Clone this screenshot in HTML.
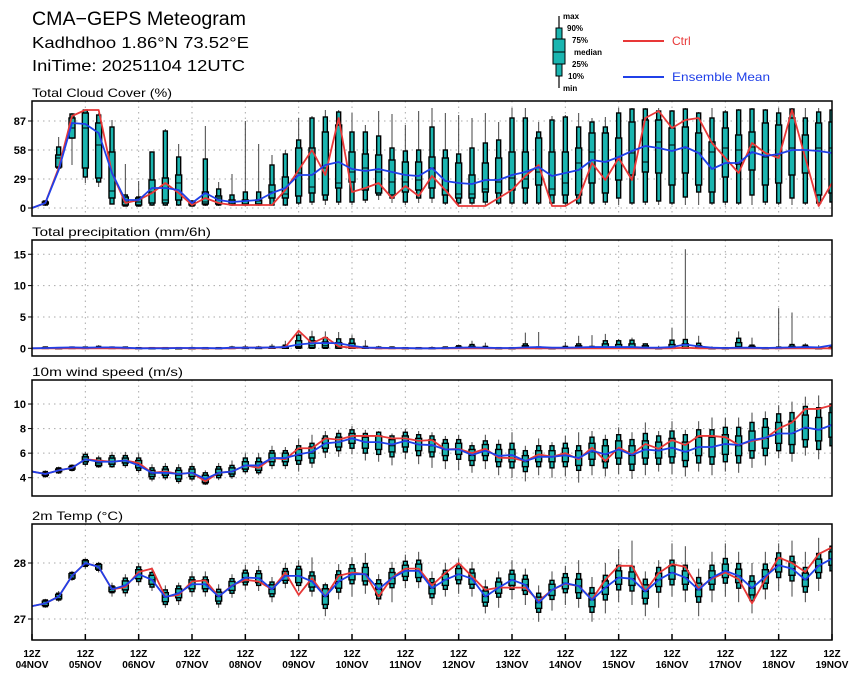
<!DOCTYPE html>
<html><head><meta charset="utf-8"><style>
html,body{margin:0;padding:0;background:#fff;}
svg{display:block;font-family:"Liberation Sans",sans-serif;}
</style></head><body>
<svg id="chart" width="860" height="678" viewBox="0 0 860 678" xmlns="http://www.w3.org/2000/svg">
<text x="32" y="25" font-size="19" textLength="214" lengthAdjust="spacingAndGlyphs">CMA−GEPS Meteogram</text>
<text x="32" y="48" font-size="16" textLength="217" lengthAdjust="spacingAndGlyphs">Kadhdhoo 1.86°N 73.52°E</text>
<text x="32" y="71" font-size="16" textLength="213" lengthAdjust="spacingAndGlyphs">IniTime: 20251104 12UTC</text>
<g>
 <line x1="559" y1="16" x2="559" y2="88" stroke="#000" stroke-width="1.2"/>
 <rect x="556" y="28" width="6" height="48" fill="#1ab5b0" stroke="#000" stroke-width="1"/>
 <rect x="553" y="39" width="12" height="25" fill="#1ab5b0" stroke="#000" stroke-width="1"/>
 <line x1="553" y1="52" x2="565" y2="52" stroke="#000" stroke-width="1"/>
 <g font-size="8" font-weight="bold">
 <text x="563" y="19">max</text><text x="567" y="31">90%</text><text x="572" y="43">75%</text>
 <text x="574" y="55">median</text><text x="572" y="67">25%</text><text x="568" y="79">10%</text><text x="563" y="91">min</text>
 </g>
 <line x1="623" y1="41" x2="664" y2="41" stroke="#e83838" stroke-width="2"/>
 <text x="672" y="45" font-size="12" fill="#e83838">Ctrl</text>
 <line x1="623" y1="77" x2="664" y2="77" stroke="#2040e8" stroke-width="2"/>
 <text x="672" y="81" font-size="12" fill="#2040e8" textLength="98" lengthAdjust="spacingAndGlyphs">Ensemble Mean</text>
</g>
</svg>
<script>
// ---- Cloud cover (%) ----
const cloudMin=[0,2,38,43,25,21,4,2,2,2,2,2,2,2,2,2,2,2,2,2, 3,3,3,3,3,5,8,5,3,5, 5,3,3,3,3,3,3,3,3,3, 3,3,3,3,3,3,3,3,3,3, 3,3,3,3,3,3,3,3,3,3,3];
const cloudP10=[0,3,40,70,31,26,4,2,2,3,3,3,2,3,3,3,3,3,3,3, 5,6,8,6,6,8,13,10,6,10, 10,5,5,5,6,5,5,5,5,5, 5,5,5,6,10,5,6,7,5,11, 16,5,6,5,13,6,5,10,5,5,6];
const cloudP25=[0,4,41,70,40,30,10,3,3,5,5,8,3,4,4,4,4,4,10,10, 12,15,13,20,26,18,15,13,16,18, 20,13,10,10,16,15,18,20,23,13, 13,13,25,15,28,33,36,35,23,35, 23,16,31,44,38,23,25,33,35,13,15];
const cloudMed=[0,5,50,80,80,63,17,6,6,16,8,25,5,6,10,6,7,7,16,14, 35,21,40,25,36,40,36,26,26,28, 40,18,14,14,19,26,30,29,36,19, 25,45,56,46,48,55,46,66,63,60, 55,56,60,58,61,51,53,60,58,60,60];
const cloudP75=[0,6,53,90,95,85,56,11,10,28,30,33,6,16,12,8,8,8,23,31, 60,60,76,83,56,54,53,48,46,46, 51,50,45,33,45,50,56,56,70,56, 56,60,75,75,70,86,88,88,80,81, 75,66,80,73,76,85,83,90,73,85,86];
const cloudP90=[0,7,61,94,98,93,81,13,11,56,77,51,7,49,19,13,16,16,43,54, 68,90,91,96,76,76,72,60,57,58, 81,58,54,60,65,68,90,90,76,88, 91,81,86,81,95,99,99,97,97,99, 95,90,96,98,99,98,95,99,90,96,98];
const cloudMax=[0,8,71,95,98,95,88,44,27,56,79,64,8,82,26,34,87,64,53,58, 90,92,98,98,95,83,97,94,83,97, 100,95,93,90,95,86,100,100,86,92, 93,95,90,91,100,100,100,100,98,100, 96,100,98,99,100,99,100,100,100,100,100];
const cloudMean=[0,5,38,85,84,75,35,8,8,20,20,18,5,15,8,6,7,8,15,20, 33,33,43,46,39,37,39,36,33,32, 40,27,25,24,28,28,33,36,41,32, 35,38,48,46,51,57,62,60,57,61, 55,39,45,45,56,52,54,58,58,57,55];
const cloudCtrl=[0,5,40,92,98,98,35,5,8,15,25,15,3,10,5,3,3,3,3,18, 38,58,33,90,16,20,25,10,22,12, 32,18,2,2,2,10,18,32,43,2, 2,10,45,28,50,28,90,97,80,88, 90,65,50,35,65,55,50,98,50,2,25];
const cloudTicks=[0,29,58,87];
// ---- Precipitation (mm/6h) ----
const prMin=[0,0,0,0,0,0,0,0,0,0,0,0,0,0,0,0,0,0,0,0, 0,0,0,0,0,0,0,0,0,0, 0,0,0,0,0,0,0,0,0,0, 0,0,0,0,0,0,0,0,0,0, 0,0,0,0,0,0,0,0,0,0,0];
const prP10=[0,0,0,0,0,0,0,0,0,0,0,0,0,0,0,0,0,0,0,0, 0,0,0,0,0,0,0,0,0,0, 0,0,0,0,0,0,0,0,0,0, 0,0,0,0,0,0,0,0,0,0, 0,0,0,0,0,0,0,0,0,0,0];
const prP25=[0,0,0,0,0,0,0,0,0,0,0,0,0,0,0,0,0,0,0,0, 0.1,0.1,0.1,0.05,0,0,0,0,0,0, 0,0,0,0,0,0,0,0,0,0, 0,0,0,0,0,0,0,0,0,0, 0,0,0,0,0,0,0,0,0,0,0];
const prMed=[0,0.02,0.02,0.02,0.02,0.02,0.02,0.02,0.02,0.02,0.02,0.02,0.02,0.02,0.02,0.02,0.02,0.02,0.05,0.1, 0.3,0.4,0.4,0.3,0.2,0.05,0.02,0.02,0.02,0.02, 0.02,0.02,0.05,0.1,0.05,0.02,0.02,0.1,0.05,0.02, 0.05,0.1,0.05,0.2,0.2,0.2,0.1,0.02,0.2,0.2, 0.1,0.02,0.02,0.3,0.1,0.02,0.05,0.1,0.1,0.02,0.05];
const prP75=[0,0.1,0.05,0.1,0.1,0.15,0.1,0.1,0.05,0.05,0.05,0.05,0.05,0.05,0.05,0.1,0.1,0.1,0.15,0.3, 1.2,1.2,1.0,0.9,0.8,0.15,0.1,0.1,0.05,0.05, 0.05,0.1,0.2,0.3,0.15,0.05,0.05,0.4,0.1,0.05, 0.15,0.4,0.15,0.7,0.6,0.7,0.4,0.05,0.6,0.7, 0.4,0.05,0.05,0.9,0.3,0.05,0.1,0.3,0.3,0.05,0.1];
const prP90=[0,0.2,0.1,0.2,0.2,0.3,0.2,0.2,0.1,0.1,0.1,0.1,0.1,0.1,0.1,0.2,0.2,0.2,0.3,0.5, 2.1,1.8,1.7,1.5,1.5,0.3,0.2,0.2,0.1,0.1, 0.1,0.2,0.4,0.6,0.3,0.1,0.1,0.7,0.2,0.1, 0.3,0.7,0.3,1.2,1.2,1.3,0.7,0.1,1.3,1.4, 0.8,0.1,0.1,1.6,0.5,0.1,0.2,0.6,0.5,0.1,0.2];
const prMax=[0,0.3,0.2,0.3,0.3,0.5,0.3,0.3,0.2,0.2,0.2,0.2,0.3,0.2,0.2,0.4,0.5,0.4,0.7,1.2, 2.5,2.8,2.7,2.6,2.1,1.3,0.4,0.3,0.2,0.2, 0.3,0.3,0.6,1.2,0.9,0.2,0.1,2.5,2.6,0.2, 1.0,2.0,2.1,2.3,1.5,1.7,0.8,0.4,3.3,15.8, 2.0,0.3,0.2,2.7,1.7,0.2,6.4,5.7,0.8,0.5,0.3];
const prMean=[0,0.05,0.1,0.15,0.1,0.15,0.15,0.1,0,0,0,0.05,0.05,0.05,0,0.1,0.1,0.1,0.15,0.2, 0.6,0.8,0.85,0.8,0.4,0.1,0.1,0.05,0.05,0, 0,0.05,0.1,0.15,0.1,0.05,0.05,0.15,0.2,0.1, 0.1,0.15,0.2,0.2,0.2,0.2,0.1,0.1,0.2,0.6, 0.3,0.1,0.05,0.1,0.1,0.05,0.1,0.15,0.2,0.15,0.5];
const prCtrl=[0,0,0,0,0,0,0,0,0,0.05,0.05,0.05,0,0,0,0,0.1,0.1,0.1,0.2, 2.8,0.8,1.8,0.3,0.1,0.1,0,0,0,0, 0,0,0,0,0,0,0,0,0,0, 0,0,0,0,0,0,0,0,0,0.1, 0,0,0,0,0,0,0,0,0,0,0];
const prTicks=[0,5,10,15];
// ---- Wind speed (m/s) ----
const wMin=[4.5,4.0,4.3,4.5,4.9,4.8,4.8,4.8,4.4,3.7,3.8,3.5,3.7,3.4,3.8,3.9,4.3,4.2,4.7,4.7,4.5,4.8,5.6,5.7,5.9,5.4,5.3,5.0,5.5,5.1,4.8,4.7,4.6,4.4,4.7,4.2,4.0,3.7,4.2,4.0,4.1,3.6,4.2,4.1,4.3,3.9,4.2,4.5,4.3,4.1,4.5,4.2,4.5,4.4,4.8,5.0,5.6,5.3,5.8,5.5,5.6];
const wP10=[4.5,4.1,4.4,4.6,5.1,4.9,4.9,5.0,4.6,3.9,4.0,3.7,3.9,3.5,4.0,4.1,4.5,4.4,5.0,5.0,5.1,5.2,6.1,6.2,6.4,6.0,5.9,5.7,6.1,5.8,5.7,5.4,5.5,5.0,5.4,4.9,4.8,4.5,4.9,4.8,4.9,4.6,5.0,4.8,5.1,4.6,5.1,5.1,5.2,4.9,5.2,5.1,5.3,5.2,5.6,5.8,6.2,6.0,6.5,6.3,6.6];
const wP25=[4.5,4.2,4.5,4.7,5.3,5.0,5.1,5.2,4.8,4.1,4.2,3.9,4.1,3.6,4.2,4.3,4.7,4.6,5.3,5.3,5.4,5.6,6.4,6.5,6.8,6.4,6.3,6.1,6.5,6.2,6.1,5.8,5.9,5.4,5.8,5.3,5.3,4.9,5.3,5.3,5.3,5.0,5.5,5.3,5.6,5.1,5.6,5.6,5.7,5.4,5.8,5.7,5.9,5.8,6.2,6.4,6.8,6.7,7.1,7.0,7.3];
const wMed=[4.5,4.3,4.6,4.8,5.5,5.2,5.3,5.4,5.1,4.3,4.4,4.2,4.4,3.9,4.4,4.5,5.0,5.0,5.6,5.6,5.8,6.0,6.8,6.9,7.2,6.9,6.9,6.6,7.0,6.7,6.6,6.3,6.3,5.8,6.2,5.8,5.8,5.3,5.7,5.7,5.8,5.6,6.1,5.9,6.3,5.8,6.3,6.2,6.4,6.1,6.5,6.5,6.7,6.6,7.0,7.2,7.6,7.6,8.0,7.9,8.3];
const wP75=[4.5,4.4,4.7,4.9,5.7,5.4,5.6,5.6,5.4,4.6,4.7,4.6,4.7,4.2,4.7,4.8,5.3,5.3,6.0,6.0,6.3,6.5,7.2,7.3,7.6,7.3,7.4,7.1,7.4,7.2,7.1,6.8,6.8,6.3,6.7,6.3,6.3,5.8,6.2,6.2,6.4,6.2,6.8,6.6,7.0,6.6,7.0,6.9,7.2,6.9,7.3,7.3,7.5,7.4,7.8,8.1,8.5,8.6,9.1,8.9,9.3];
const wP90=[4.5,4.5,4.8,5.0,5.9,5.6,5.8,5.8,5.6,4.8,4.9,4.8,4.9,4.4,4.9,5.0,5.6,5.6,6.2,6.2,6.6,6.8,7.4,7.6,7.9,7.6,7.7,7.4,7.7,7.5,7.4,7.1,7.1,6.6,7.0,6.7,6.8,6.2,6.6,6.6,6.8,6.6,7.3,7.1,7.5,7.1,7.6,7.4,7.8,7.5,7.9,7.9,8.1,8.1,8.5,8.8,9.2,9.3,9.8,9.7,10.0];
const wMax=[4.5,4.6,4.9,5.1,6.1,5.8,6.1,6.1,6.0,5.1,5.2,5.1,5.2,4.6,5.2,5.4,6.0,6.0,6.6,6.5,7.2,7.5,7.8,7.9,8.2,7.9,7.8,7.6,8.0,7.8,7.7,7.4,7.5,6.9,7.5,7.1,7.7,6.6,7.2,6.9,7.4,7.7,7.8,7.5,8.1,7.7,8.5,7.8,8.6,7.9,8.6,8.9,8.9,8.9,9.3,9.4,9.9,10.2,10.6,10.7,10.8];
const wMean=[4.5,4.3,4.6,4.8,5.5,5.3,5.3,5.4,5.0,4.4,4.4,4.3,4.4,3.9,4.4,4.5,5.0,5.0,5.6,5.6,5.9,6.1,6.8,6.9,7.2,6.9,6.9,6.7,7.0,6.7,6.66,6.3,6.3,5.85,6.2,5.77,5.85,5.36,5.7,5.7,5.83,5.6,6.2,5.9,6.3,5.85,6.3,6.2,6.45,6.1,6.5,6.5,6.75,6.66,7.07,7.25,7.6,7.6,8.1,7.9,8.3];
const wCtrl=[4.5,4.3,4.6,4.8,5.5,5.4,5.3,5.4,5.2,4.4,4.5,4.3,4.4,3.7,4.4,4.5,5.0,4.8,5.6,5.5,6.4,6.4,7.2,7.1,7.4,7.4,7.4,7.2,7.2,7.0,7.07,6.3,6.35,6.0,6.35,5.63,5.6,5.36,5.9,5.7,6.0,5.5,6.45,5.36,6.45,5.9,6.75,6.35,7.07,6.66,7.4,7.4,7.3,6.66,7.0,7.2,8.0,8.5,9.6,9.6,9.9];
const wTicks=[4,6,8,10];
// ---- 2m temperature (°C) ----
const tMin=[27.23,27.2,27.31,27.68,27.9,27.83,27.4,27.4,27.6,27.5,27.2,27.25,27.4,27.4,27.2,27.38,27.52,27.5,27.3,27.55,27.5,27.4,27.05,27.35,27.4,27.45,27.25,27.3,27.55,27.55,27.25,27.4,27.45,27.4,27.1,27.2,27.35,27.25,26.95,27.15,27.25,27.2,26.95,27.1,27.3,27.25,27.05,27.2,27.4,27.3,27.05,27.3,27.4,27.3,27.1,27.35,27.5,27.4,27.3,27.5,27.6];
const tP10=[27.23,27.22,27.34,27.71,27.94,27.87,27.47,27.47,27.67,27.57,27.26,27.33,27.49,27.49,27.27,27.46,27.61,27.6,27.4,27.64,27.6,27.5,27.19,27.48,27.63,27.61,27.36,27.56,27.69,27.67,27.38,27.53,27.63,27.55,27.23,27.39,27.53,27.44,27.12,27.35,27.47,27.37,27.12,27.34,27.52,27.5,27.27,27.48,27.61,27.52,27.3,27.52,27.64,27.55,27.33,27.54,27.74,27.68,27.48,27.73,27.86];
const tP25=[27.23,27.24,27.36,27.73,27.96,27.89,27.49,27.52,27.72,27.62,27.31,27.38,27.54,27.54,27.32,27.51,27.66,27.65,27.45,27.69,27.65,27.57,27.26,27.55,27.7,27.68,27.43,27.63,27.76,27.74,27.45,27.6,27.7,27.62,27.3,27.46,27.6,27.51,27.19,27.42,27.54,27.47,27.22,27.44,27.62,27.6,27.37,27.58,27.71,27.62,27.4,27.62,27.74,27.65,27.43,27.64,27.84,27.78,27.58,27.83,27.96];
const tMed=[27.23,27.28,27.4,27.77,28.0,27.93,27.53,27.6,27.8,27.7,27.39,27.46,27.62,27.62,27.4,27.59,27.74,27.73,27.53,27.77,27.77,27.67,27.4,27.67,27.8,27.8,27.53,27.73,27.86,27.86,27.55,27.7,27.8,27.72,27.4,27.56,27.7,27.61,27.29,27.52,27.64,27.59,27.34,27.56,27.74,27.72,27.49,27.7,27.83,27.74,27.52,27.74,27.86,27.77,27.55,27.76,27.96,27.9,27.7,27.95,28.08];
const tP75=[27.23,27.32,27.44,27.81,28.04,27.97,27.57,27.68,27.88,27.78,27.47,27.54,27.7,27.7,27.48,27.67,27.82,27.81,27.61,27.85,27.89,27.77,27.54,27.79,27.9,27.92,27.63,27.83,27.96,27.98,27.65,27.8,27.9,27.82,27.5,27.66,27.8,27.71,27.39,27.62,27.74,27.71,27.46,27.68,27.86,27.84,27.61,27.82,27.95,27.86,27.64,27.86,27.98,27.89,27.67,27.88,28.08,28.02,27.82,28.07,28.2];
const tP90=[27.23,27.34,27.46,27.83,28.06,27.99,27.59,27.73,27.93,27.83,27.52,27.59,27.75,27.75,27.53,27.72,27.87,27.86,27.66,27.9,27.94,27.84,27.61,27.86,27.97,27.99,27.7,27.9,28.03,28.05,27.72,27.87,27.97,27.89,27.57,27.73,27.87,27.78,27.46,27.69,27.81,27.81,27.56,27.78,27.96,27.94,27.71,27.92,28.05,27.96,27.74,27.96,28.08,27.99,27.77,27.98,28.18,28.12,27.92,28.17,28.3];
const tMax=[27.23,27.36,27.5,27.86,28.08,28.02,27.65,27.8,28.0,27.92,27.6,27.65,27.85,27.85,27.62,27.8,27.97,27.95,27.75,28.0,28.05,28.1,27.65,27.98,28.1,28.18,27.8,28.02,28.15,28.2,27.85,28.0,28.08,28.02,27.7,27.85,28.05,27.9,27.6,27.85,27.95,28.05,27.75,28.0,28.25,28.4,27.85,28.05,28.35,28.3,27.9,28.2,28.35,28.2,28.0,28.2,28.35,28.4,28.2,28.45,28.5];
const tMean=[27.23,27.28,27.4,27.77,28.0,27.93,27.53,27.6,27.8,27.7,27.39,27.46,27.62,27.62,27.4,27.59,27.74,27.73,27.53,27.77,27.77,27.67,27.4,27.67,27.8,27.8,27.53,27.73,27.86,27.86,27.55,27.7,27.8,27.72,27.4,27.56,27.7,27.61,27.29,27.52,27.64,27.59,27.34,27.56,27.74,27.72,27.49,27.7,27.83,27.74,27.52,27.74,27.86,27.77,27.55,27.76,27.96,27.9,27.7,27.95,28.08];
const tCtrl=[27.23,27.28,27.4,27.77,28.0,27.93,27.53,27.57,27.84,27.9,27.4,27.43,27.67,27.69,27.4,27.6,27.7,27.67,27.53,27.83,27.43,27.73,27.4,27.77,27.83,27.8,27.4,27.74,27.9,27.9,27.6,27.82,28.0,27.76,27.52,27.56,27.56,27.56,27.32,27.52,27.63,27.59,27.35,27.7,27.95,27.95,27.5,27.82,27.98,27.93,27.55,27.72,27.83,27.71,27.28,27.71,28.1,28.0,27.84,28.16,28.28];
const tTicks=[27,28];
// ---- time axis ----
const dayLabels=["04NOV","05NOV","06NOV","07NOV","08NOV","09NOV","10NOV","11NOV","12NOV","13NOV","14NOV","15NOV","16NOV","17NOV","18NOV","19NOV"];

const NS="http://www.w3.org/2000/svg";
const svg=document.getElementById('chart');
const X0=32, X1=832, NSTEP=60;
function xScale(i){return X0+i*(X1-X0)/NSTEP;}
function mk(tag,attrs,parent){const e=document.createElementNS(NS,tag);for(const k in attrs)e.setAttribute(k,attrs[k]);(parent||svg).appendChild(e);return e;}

const panels=[
 {key:'cloud',title:'Total Cloud Cover (%)',tw:140,top:101,bot:216,y0:208,v0:0,ppu:1,ticks:cloudTicks,
  mn:cloudMin,p10:cloudP10,p25:cloudP25,md:cloudMed,p75:cloudP75,p90:cloudP90,mx:cloudMax,mean:cloudMean,ctrl:cloudCtrl},
 {key:'precip',title:'Total precipitation (mm/6h)',tw:179,top:240,bot:356,y0:348.3,v0:0,ppu:6.27,ticks:prTicks,
  mn:prMin,p10:prP10,p25:prP25,md:prMed,p75:prP75,p90:prP90,mx:prMax,mean:prMean,ctrl:prCtrl},
 {key:'wind',title:'10m wind speed (m/s)',tw:151,top:380,bot:496,y0:477.7,v0:4,ppu:12.28,ticks:wTicks,
  mn:wMin,p10:wP10,p25:wP25,md:wMed,p75:wP75,p90:wP90,mx:wMax,mean:wMean,ctrl:wCtrl},
 {key:'temp',title:'2m Temp (°C)',tw:91,top:524,bot:640,y0:563,v0:28,ppu:56,ticks:tTicks,
  mn:tMin,p10:tP10,p25:tP25,md:tMed,p75:tP75,p90:tP90,mx:tMax,mean:tMean,ctrl:tCtrl}
];

panels.forEach(function(p){
 const yS=function(v){return p.y0-(v-p.v0)*p.ppu;};
 const g=mk('g',{});
 
 
 const t=mk('text',{x:32,y:p.top-4,'font-size':12,textLength:p.tw,lengthAdjust:'spacingAndGlyphs'},g);
 t.textContent=p.title;
 
 
 const cid='clip-'+p.key;
 const cp=mk('clipPath',{id:cid},g);
 mk('rect',{x:X0,y:p.top,width:X1-X0,height:p.bot-p.top},cp);
 for(let d=1;d<15;d++){
  const gx=xScale(d*4);
  const gl=mk('line',{x1:gx,y1:p.top,x2:gx,y2:p.bot,stroke:'#aaa','stroke-width':1,'stroke-dasharray':'1.5,4'},g);
  
  
 }
 p.ticks.forEach(function(v){
  const ty=yS(v);
  const hl=mk('line',{x1:X0,y1:ty,x2:X1,y2:ty,stroke:'#aaa','stroke-width':1,'stroke-dasharray':'1.5,4'},g);
  
  
  mk('line',{x1:X0-4,y1:ty,x2:X0,y2:ty,stroke:'#000','stroke-width':1},g);
  const tl=mk('text',{x:X0-6,y:ty+4,'font-size':11,'font-weight':'bold','text-anchor':'end'},g);
  tl.textContent=String(v);
  
  
 });
 const cg=mk('g',{'clip-path':'url(#'+cid+')'},g);
 for(let i=1;i<=NSTEP;i++){
  const cx=xScale(i);
  const bg=mk('g',{},cg);
  
  
  mk('line',{x1:cx,y1:yS(p.mx[i]),x2:cx,y2:yS(p.mn[i]),stroke:'#444','stroke-width':1},bg);
  const y90=yS(p.p90[i]),y10=yS(p.p10[i]);
  mk('rect',{x:cx-2,y:y90,width:4,height:Math.max(0.8,y10-y90),fill:'#1ab5b0',stroke:'#000','stroke-width':1.4},bg);
  const y75=yS(p.p75[i]),y25=yS(p.p25[i]);
  mk('rect',{x:cx-3,y:y75,width:6,height:Math.max(0.8,y25-y75),fill:'#1ab5b0',stroke:'#000','stroke-width':1.4},bg);
  const ym=yS(p.md[i]);
  mk('line',{x1:cx-3,y1:ym,x2:cx+3,y2:ym,stroke:'#000','stroke-width':1},bg);
 }
 function path(arr){let s='';arr.forEach(function(v,i){s+=(i?'L':'M')+xScale(i).toFixed(2)+','+yS(v).toFixed(2);});return s;}
 const lc=mk('path',{d:path(p.ctrl),fill:'none',stroke:'#e83838','stroke-width':1.8,'stroke-linejoin':'round'},cg);
 
 
 const lm=mk('path',{d:path(p.mean),fill:'none',stroke:'#2040e8','stroke-width':1.8,'stroke-linejoin':'round'},cg);
 
 
 const fr=mk('rect',{x:X0,y:p.top,width:X1-X0,height:p.bot-p.top,fill:'none',stroke:'#000','stroke-width':1.5},g);
 
 
});

const ax=mk('g',{});


dayLabels.forEach(function(lab,d){
 const x=xScale(d*4);
 mk('line',{x1:x,y1:640,x2:x,y2:634,stroke:'#000','stroke-width':1.5},ax);
 const t1=mk('text',{x:x,y:657,'font-size':10,'font-weight':'bold','text-anchor':'middle'},ax);
 t1.textContent='12Z';
 
 
 const t2=mk('text',{x:x,y:668,'font-size':10,'font-weight':'bold','text-anchor':'middle'},ax);
 t2.textContent=lab;
 
 
});
</script>
</body></html>
